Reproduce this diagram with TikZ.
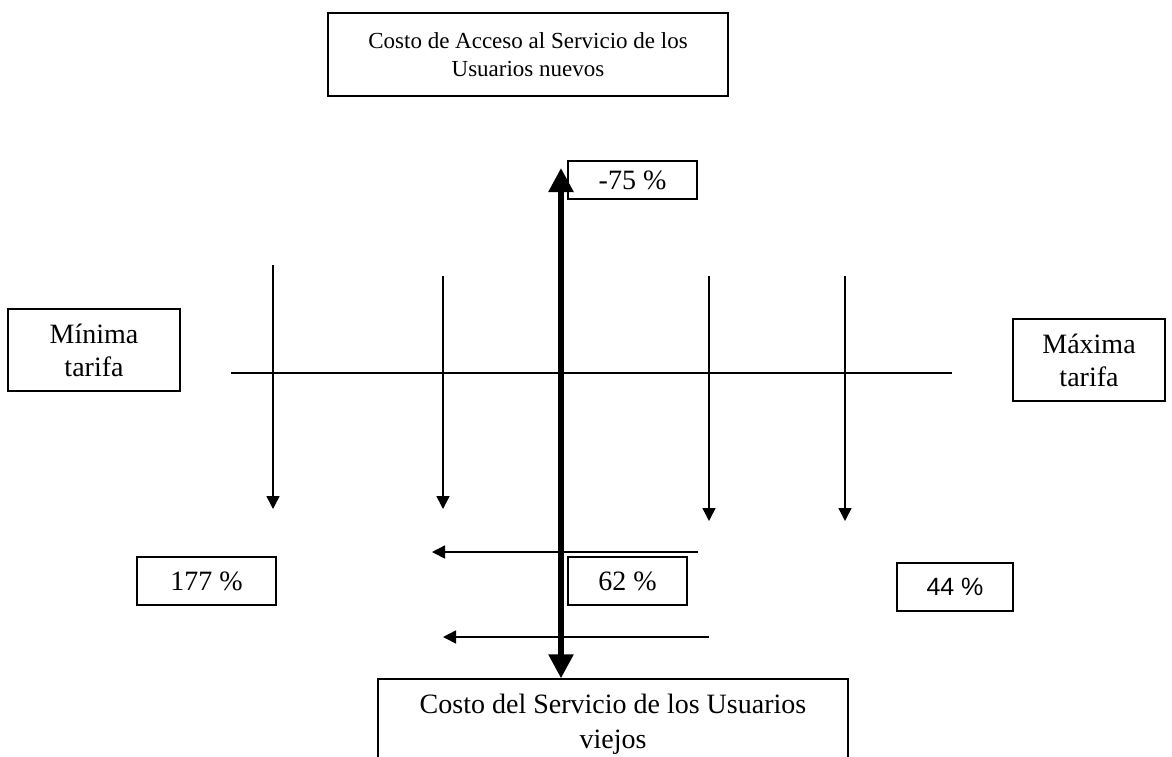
\documentclass[tikz,border=0pt]{standalone}
\usepackage{fontspec}
\setmainfont{Liberation Serif}
\newfontfamily\arialfont{Liberation Sans}
\usetikzlibrary{arrows.meta}
\begin{document}
\begin{tikzpicture}[x=1pt,y=-1pt,
  box/.style={draw,line width=1.4pt,align=center,inner sep=0pt,font=\fontsize{28}{33}\selectfont},
  thinline/.style={line width=1.5pt},
  thinarrow/.style={line width=1.5pt,-{Triangle[length=13pt,width=13pt]}},
  thickarrow/.style={line width=5.5pt,{Triangle[length=24pt,width=24pt]}-{Triangle[length=24pt,width=24pt]}}]
\useasboundingbox (0,0) rectangle (1172,756);
\clip (0,0) rectangle (1172,756);
\fill[white] (0,0) rectangle (1172,756);

% boxes
\node[box,minimum width=400pt,minimum height=83pt,font=\fontsize{23}{28}\selectfont] (top) at (528,54.5) {Costo de Acceso al Servicio de los\\Usuarios nuevos};
\node[box,minimum width=172pt,minimum height=82pt] (mini) at (94,350) {Mínima\\tarifa};
\node[box,minimum width=152pt,minimum height=82pt] (maxi) at (1089,360) {Máxima\\tarifa};
\node[box,minimum width=129pt,minimum height=38pt] (m75) at (632.5,180) {-75 \%};
\node[box,minimum width=139pt,minimum height=48pt] (p177) at (206.5,581) {177 \%};
\node[box,minimum width=119pt,minimum height=48pt] (p62) at (627.5,581) {62 \%};
\node[box,minimum width=116pt,minimum height=48pt,font=\arialfont\fontsize{25}{30}\selectfont] (p44) at (955,587) {44 \%};
\node[box,minimum width=470pt,minimum height=90pt,font=\fontsize{28}{35}\selectfont] (bot) at (613,724) {Costo del Servicio de los Usuarios\\viejos};

% free-end coordinates
\coordinate (vt) at (561,168);
\coordinate (hl) at (231,373);
\coordinate (hr) at (952,373);
\coordinate (d1s) at (273,265); \coordinate (d1e) at (273,509);
\coordinate (d2s) at (443,276); \coordinate (d2e) at (443,509);
\coordinate (d3s) at (709,276); \coordinate (d3e) at (709,521);
\coordinate (d4s) at (845,276); \coordinate (d4e) at (845,521);
\coordinate (l1s) at (698,552); \coordinate (l1e) at (432,552);
\coordinate (l2s) at (709,637); \coordinate (l2e) at (443,637);

% horizontal axis
\draw[thinline] (hl) -- (hr);
% vertical thick double arrow
\draw[thickarrow] (vt) -- (vt |- bot.north);
% down arrows
\draw[thinarrow] (d1s) -- (d1e);
\draw[thinarrow] (d2s) -- (d2e);
\draw[thinarrow] (d3s) -- (d3e);
\draw[thinarrow] (d4s) -- (d4e);
% left arrows
\draw[thinarrow] (l1s) -- (l1e);
\draw[thinarrow] (l2s) -- (l2e);
\end{tikzpicture}
\end{document}
